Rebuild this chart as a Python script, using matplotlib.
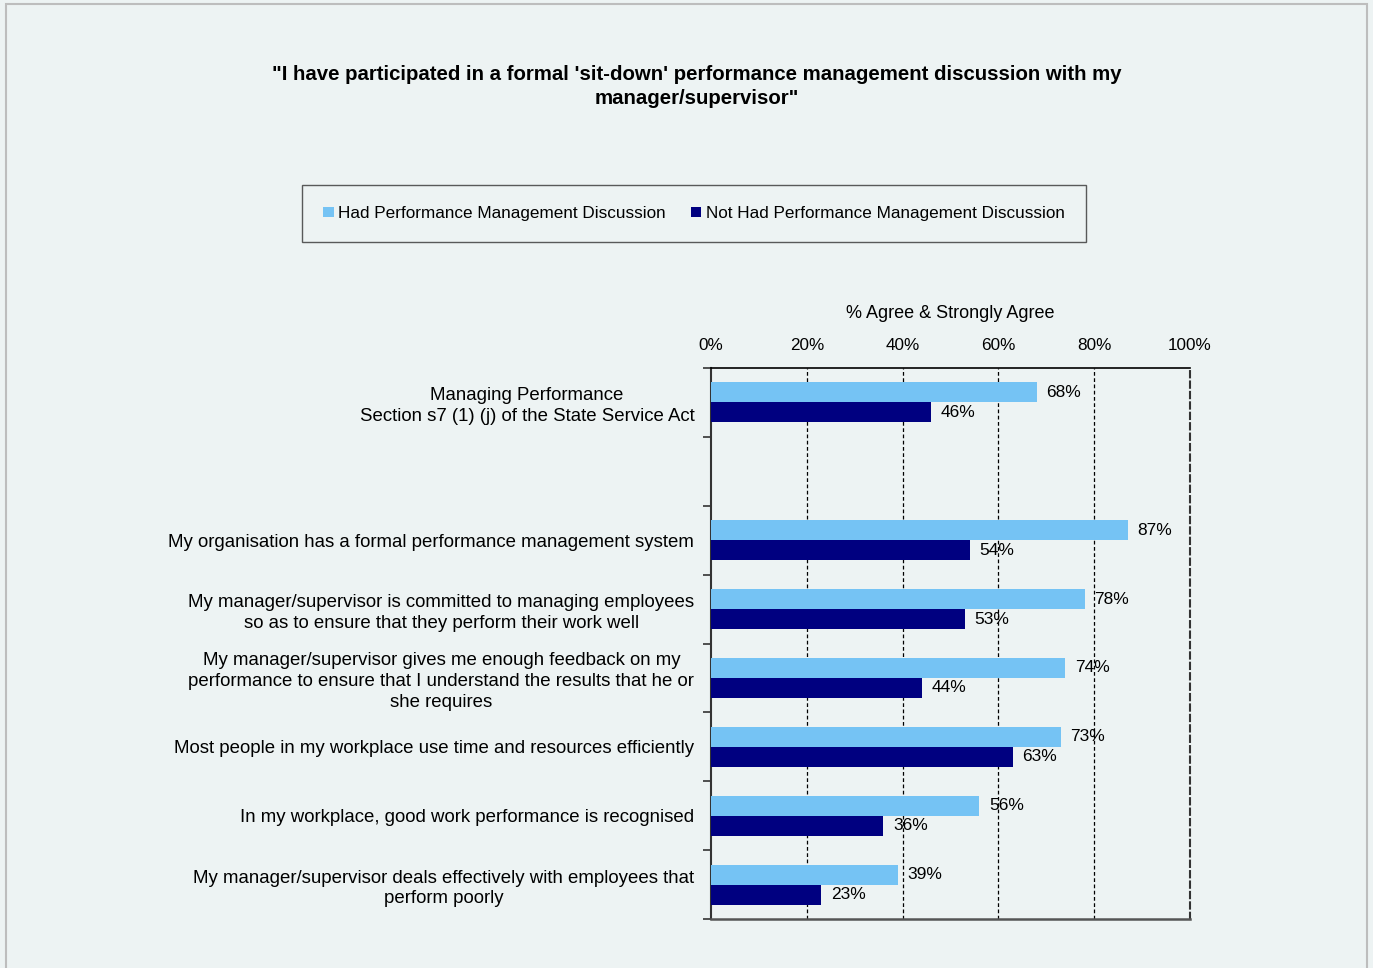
import matplotlib
matplotlib.use('Agg')
import matplotlib.pyplot as plt
from matplotlib.patches import Patch, Rectangle
from matplotlib.ticker import FixedLocator, PercentFormatter
import numpy as np

plt.rcParams['font.family'] = ['Liberation Sans', 'DejaVu Sans']

# survey statements (blank entry leaves a gap after the first group)
statements = [
    "Managing Performance\nSection s7 (1) (j) of the State Service Act",
    "",
    "My organisation has a formal performance management system",
    "My manager/supervisor is committed to managing employees\nso as to ensure that they perform their work well",
    "My manager/supervisor gives me enough feedback on my\nperformance to ensure that I understand the results that he or\nshe requires",
    "Most people in my workplace use time and resources efficiently",
    "In my workplace, good work performance is recognised",
    "My manager/supervisor deals effectively with employees that\nperform poorly",
]
had_discussion = [68, None, 87, 78, 74, 73, 56, 39]
not_had_discussion = [46, None, 54, 53, 44, 63, 36, 23]
series_names = ["Had Performance Management Discussion",
                "Not Had Performance Management Discussion"]
x_ticks = [0, 20, 40, 60, 80, 100]

bg = '#EDF3F3'
light = '#75C3F4'
dark = '#000080'

fig = plt.figure(figsize=(13.73, 9.68), dpi=100, facecolor=bg)
fig.patches.append(Rectangle((6 / 1373, -0.02), 1361 / 1373, 1.0 - 4 / 968 + 0.02,
                             transform=fig.transFigure, fill=False,
                             edgecolor='#BDBDBD', lw=1.5))

ax = fig.add_axes([711 / 1373, 1 - 919 / 968, 479 / 1373, 551 / 968])
ax.set_facecolor(bg)

pos = np.arange(len(statements))
h = 0.29
for i in pos:
    if had_discussion[i] is None:
        continue
    ax.barh(i - h / 2, had_discussion[i], height=h, color=light, zorder=3)
    ax.barh(i + h / 2, not_had_discussion[i], height=h, color=dark, zorder=3)
    ax.text(had_discussion[i] + 2, i - h / 2, f"{had_discussion[i]}%",
            va='center', ha='left', fontsize=12.5, zorder=4)
    ax.text(not_had_discussion[i] + 2, i + h / 2, f"{not_had_discussion[i]}%",
            va='center', ha='left', fontsize=12.5, zorder=4)

ax.set_xlim(0, 100)
ax.set_ylim(len(statements) - 0.5, -0.5)

ax.xaxis.set_major_locator(FixedLocator(x_ticks))
ax.xaxis.set_major_formatter(PercentFormatter(decimals=0))
ax.xaxis.tick_top()
ax.xaxis.set_label_position('top')
ax.tick_params(axis='x', length=0, pad=11, labelsize=12.3)
ax.set_xlabel('% Agree & Strongly Agree', fontsize=13, labelpad=14)

ax.set_yticks(pos)
ax.set_yticklabels(statements, fontsize=13.4, ha='right', multialignment='center',
                   linespacing=1.3)
ax.yaxis.set_minor_locator(FixedLocator(np.arange(-0.5, len(statements), 1)))
ax.tick_params(axis='y', which='major', length=0, pad=12)
ax.tick_params(axis='y', which='minor', length=6, width=1.2, color='#333333')

for x in x_ticks[1:-1]:
    ax.axvline(x, color='black', ls=(0, (3, 2)), lw=0.9, zorder=1)

ax.spines['top'].set_color('black')
ax.spines['top'].set_linewidth(1.2)
ax.spines['left'].set_color('#333333')
ax.spines['left'].set_linewidth(1.5)
ax.spines['bottom'].set_color('#555555')
ax.spines['bottom'].set_linewidth(1.8)
ax.spines['right'].set_color('#333333')
ax.spines['right'].set_linewidth(1.5)
ax.spines['right'].set_linestyle((0, (3, 2)))

fig.text(697 / 1373, 1 - 86.5 / 968,
         "\"I have participated in a formal 'sit-down' performance management discussion with my\nmanager/supervisor\"",
         ha='center', va='center', fontsize=14.7, fontweight='bold',
         linespacing=1.35)

handles = [Patch(facecolor=light, edgecolor='none'), Patch(facecolor=dark, edgecolor='none')]
leg = fig.legend(handles, series_names, loc='center', ncol=2,
                 bbox_to_anchor=(694 / 1373, 1 - 213.5 / 968),
                 fontsize=12.3, frameon=True, fancybox=False,
                 handlelength=0.6, handleheight=0.6, handletextpad=0.25,
                 columnspacing=1.5, borderpad=1.25)
leg.get_frame().set_edgecolor('#333333')
leg.get_frame().set_facecolor(bg)
leg.get_frame().set_linewidth(1.0)

fig.savefig('out.png', dpi=100, facecolor=bg)
